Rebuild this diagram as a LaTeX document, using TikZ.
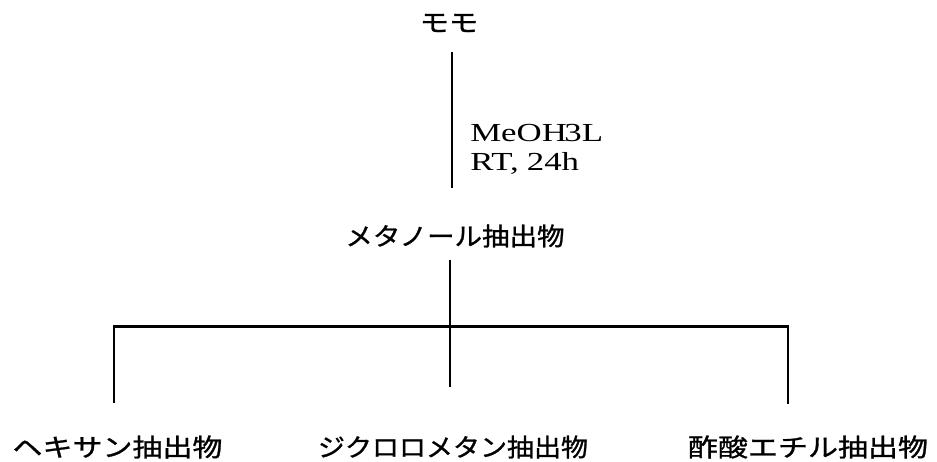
\documentclass[tikz,border=0pt]{standalone}
\usepackage{fontspec}
\setmainfont{Liberation Serif}
\newfontfamily\jp[FakeBold=1]{Noto Sans CJK JP}
\begin{document}
\begin{tikzpicture}[x=1pt,y=-1pt,
  jlabel/.style={inner sep=0pt,font=\jp\fontsize{25}{30}\selectfont,transform shape},
  cond/.style={inner sep=0pt,anchor=base west,font=\fontsize{26}{29}\selectfont,xscale=1.34,transform shape},
  line/.style={line width=2.4pt,black}]
\useasboundingbox (0,0) rectangle (937,462);
% nodes
\node[jlabel,xscale=1.17] (momo) at (449,23) {モモ};
\node[jlabel,xscale=1.1] (meth) at (455,236) {メタノール抽出物};
\node[jlabel,xscale=1.2] (hex) at (117.5,447) {ヘキサン抽出物};
\node[jlabel,xscale=1.08] (dcm) at (453,447) {ジクロロメタン抽出物};
\node[jlabel,xscale=1.2] (etac) at (808,447) {酢酸エチル抽出物};
\node[cond] (c1) at (470,141.5) {MeOH\kern-2pt 3L};
\node[cond] (c2) at (470,170.5) {RT,\hspace{6pt}24h};
% connector points
\coordinate (t1) at (452,52);
\coordinate (t2) at (452,188);
\coordinate (m1) at (450,260);
\coordinate (m2) at (450,387);
\coordinate (hl) at (114,326.5);
\coordinate (hr) at (788,326.5);
\coordinate (l2) at (114,403);
\coordinate (r2) at (788,404);
\draw[line] (t1) -- (t2);
\draw[line] (m1) -- (m2);
\draw[line] (l2) -- (hl) -- (hr) -- (r2);
\end{tikzpicture}
\end{document}
